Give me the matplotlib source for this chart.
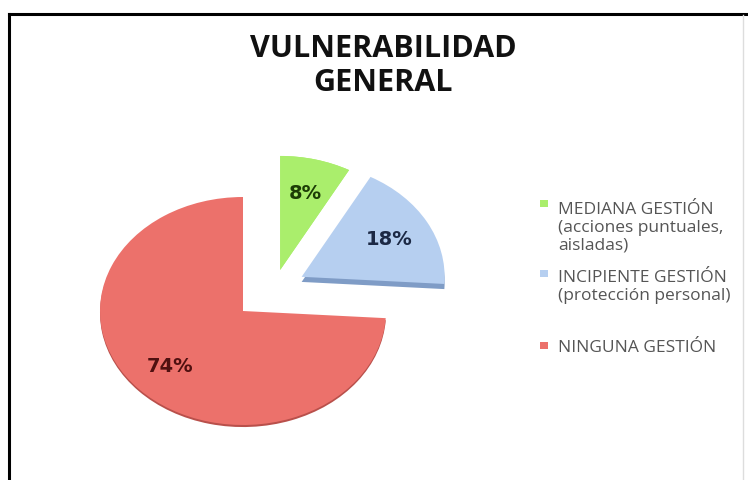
import matplotlib
matplotlib.use("Agg")
import matplotlib.pyplot as plt
from matplotlib.patches import Rectangle
from matplotlib.lines import Line2D

# ---- data ----
categories = ["MEDIANA GESTIÓN\n(acciones puntuales,\naisladas)",
              "INCIPIENTE GESTIÓN\n(protección personal)",
              "NINGUNA GESTIÓN"]
values = [8, 18, 74]
title = "VULNERABILIDAD\nGENERAL"

# ---- style ----
colors = ["#aaee6c", "#b6cff0", "#ec716b"]
rim_colors = ["#aaee6c", "#7f9cc6", "#b9504b"]
label_colors = ["#1d3d06", "#1c2945", "#4f1010"]

W, H = 748, 481
fig = plt.figure(figsize=(W / 100, H / 100), dpi=100)
fig.patch.set_facecolor("white")

def fx(x):
    return x / W

def fy(y):
    return 1 - y / H

# pie axes: red centre at pixel (243, 312); 1 unit = 143 px horiz, 114 px vert
cx_px, cy_px, rx_px, ry_px = 243, 312, 143, 114
ax = fig.add_axes([0, 0, 1, 1])

offsets = [(0.26, 0.36), (0.41, 0.30), (0.0, 0.0)]
depths = [0.0, 0.045, 0.018]

# 3-D rim (drawn below)
rims, _ = ax.pie(values, colors=rim_colors, startangle=90, counterclock=False,
                 radius=1, wedgeprops=dict(linewidth=0))
for w, (dx, dy), d in zip(rims, offsets, depths):
    w.set_center((dx, dy - d))
    w.set_zorder(1)

wedges, texts, autotexts = ax.pie(values, colors=colors, startangle=90,
                                  counterclock=False, radius=1,
                                  autopct="%1.0f%%", pctdistance=0.7,
                                  wedgeprops=dict(linewidth=0))
for w, t, (dx, dy), lc in zip(wedges, autotexts, offsets, label_colors):
    w.set_center((dx, dy))
    w.set_zorder(2)
    x, y = t.get_position()
    t.set_position((x + dx, y + dy))
    t.set_color(lc)
    t.set_fontsize(14)
    t.set_fontweight("bold")
    t.set_family("DejaVu Sans")
    t.set_zorder(3)

ax.set_aspect("auto")
ax.set_xlim(-cx_px / rx_px, (W - cx_px) / rx_px)
ax.set_ylim(-(H - cy_px) / ry_px, cy_px / ry_px)
ax.axis("off")

# title
fig.text(fx(383), fy(66), title, ha="center", va="center", fontsize=22,
         fontweight="bold", family="Open Sans", color="#111111",
         linespacing=1.2)

# legend (manual, Excel-like top-aligned markers)
fs = 12.5
ls = 1.15
pitch = fs * 100 / 72 * ls
entry_baselines = [210, 280, 352]
for cat, col, yb in zip(categories, colors, entry_baselines):
    nlines = cat.count("\n") + 1
    fig.patches.append(Rectangle((fx(540), fy(yb - 2)), 8 / W, 7 / H,
                                 transform=fig.transFigure, facecolor=col,
                                 edgecolor="none"))
    fig.text(fx(558), fy(yb + (nlines - 1) * pitch), cat, ha="left",
             va="baseline", fontsize=fs, family="Open Sans",
             color="#555555", linespacing=ls)

# frame
fig.add_artist(Line2D([fx(8.5), fx(8.5)], [fy(14.5), 0], color="black",
                      linewidth=2.2, transform=fig.transFigure))
fig.add_artist(Line2D([fx(8.5), 1], [fy(15), fy(15)], color="black",
                      linewidth=2.2, transform=fig.transFigure))
fig.add_artist(Line2D([fx(743), fx(743)], [fy(16), 0], color="#dddddd",
                      linewidth=1, transform=fig.transFigure))

fig.savefig("out.png", dpi=100, facecolor="white")
